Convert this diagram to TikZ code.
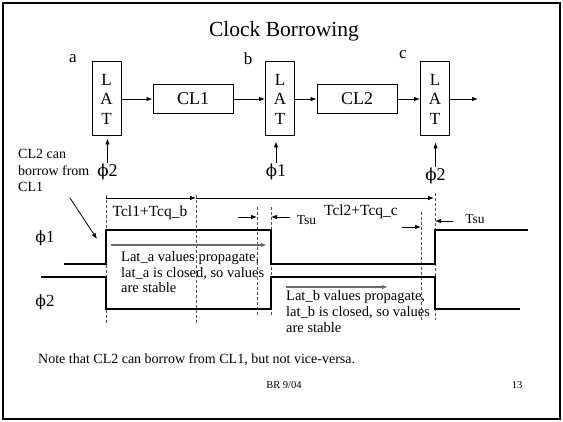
\documentclass[tikz,border=0pt]{standalone}
\usepackage{fontspec}
\setmainfont{Liberation Serif}
\newfontfamily\phifont[Scale=0.92]{DejaVu Serif}
\usetikzlibrary{arrows.meta}
\newcommand{\ph}{{\phifont ϕ}}
\begin{document}
\begin{tikzpicture}[x=1pt,y=-1pt,
	>={Latex[length=6pt,width=4.5pt]},
	lat/.style={draw, line width=1pt, minimum width=29pt, minimum height=74pt, align=center, inner sep=0pt, font=\fontsize{17}{19.5}\selectfont},
	clbox/.style={draw, line width=1pt, minimum width=80pt, minimum height=29pt, inner sep=0pt, font=\fontsize{18}{20}\selectfont},
	pfeil/.style={->, line width=0.8pt},
	welle/.style={line width=1.6pt},
	hilfslinie/.style={densely dashed, line width=0.6pt, strichgrau},
	graupfeil/.style={->, line width=1.2pt, pfeilgrau},
	txt/.style={inner sep=0pt, font=\fontsize{14.5}{15.8}\selectfont, align=left}]
	% Pegel der Taktsignale
	\def\hA{230} \def\lA{264}   % phi1
	\def\hB{277} \def\lB{309}   % phi2
	
	% Farben
	\definecolor{pfeilgrau}{RGB}{105,105,105}
	\definecolor{strichgrau}{RGB}{80,80,80}
	
	\useasboundingbox (0,0) rectangle (563,422);
	% Rahmen
	\draw[line width=2pt] (3,3) rectangle (560,419);
	
	% Titel
	\node (titel) at (284,31) {\fontsize{21.5}{24}\selectfont Clock Borrowing};
	
	% Latches und Logik
	\node[lat] (lata) at (106.5,99) {L\\A\\T};
	\node[lat] (latb) at (280,99) {L\\A\\T};
	\node[lat] (latc) at (435,99) {L\\A\\T};
	\node[clbox] (cl1) at (193,99) {CL1};
	\node[clbox] (cl2) at (357,99) {CL2};
	\coordinate (aus) at (478,99);
	
	\node[font=\fontsize{17}{19}\selectfont] (na) at (73,59) {a};
	\node[font=\fontsize{17}{19}\selectfont] (nb) at (248,59) {b};
	\node[font=\fontsize{17}{19}\selectfont] (nc) at (403,55) {c};
	
	\draw[pfeil] (lata.east) -- (cl1.west);
	\draw[pfeil] (cl1.east) -- (latb.west);
	\draw[pfeil] (latb.east) -- (cl2.west);
	\draw[pfeil] (cl2.east) -- (latc.west);
	\draw[pfeil] (latc.east) -- (aus);
	
	% Takte an den Latches
	\node[anchor=north, inner sep=0.5pt, font=\fontsize{18}{20}\selectfont] (phia) at (107.5,163) {\ph2};
	\node[anchor=north, inner sep=0.5pt, font=\fontsize{18}{20}\selectfont] (phib) at (276,163) {\ph1};
	\node[anchor=north, inner sep=0.5pt, font=\fontsize{18}{20}\selectfont] (phic) at (435.5,167) {\ph2};
	\draw[pfeil, shorten >=2pt] (phia.north) -- (phia.north |- lata.south);
	\draw[pfeil, shorten >=5pt] (phib.north) -- (phib.north |- latb.south);
	\draw[pfeil, shorten >=6pt] (phic.north) -- (phic.north |- latc.south);
	
	% Hinweis links
	\node[txt, anchor=north west, font=\fontsize{14}{16.2}\selectfont] (borgen) at (18,149.5) {CL2 can\\borrow from\\CL1};
	\coordinate (bs) at (70,198);
	\coordinate (bz) at (97,239);
	\draw[pfeil] (bs) -- (bz);
	
	% Hilfslinien
	\draw[hilfslinie] (106,195) -- (106,324);
	\draw[hilfslinie] (196,195) -- (196,325);
	\draw[hilfslinie] (257,207) -- (257,315);
	\draw[hilfslinie] (271,207) -- (271,315);
	\draw[hilfslinie] (421,212) -- (421,321);
	\draw[hilfslinie] (435,193) -- (435,320);
	
	% Taktsignale
	\node[font=\fontsize{17}{19}\selectfont] (phi1) at (45,238) {\ph1};
	\node[font=\fontsize{17}{19}\selectfont] (phi2) at (45,302) {\ph2};
	\draw[welle] (64,\lA) -- (106,\lA) -- (106,\hA) -- (271,\hA) -- (271,\lA) -- (435,\lA) -- (435,\hA) -- (528,\hA);
	\draw[welle] (41,\hB) -- (106,\hB) -- (106,\lB) -- (271,\lB) -- (271,\hB) -- (435,\hB) -- (435,\lB) -- (520,\lB);
	
	% Zeitspannen
	\coordinate (s0) at (106,198);
	\coordinate (s1) at (196,198);
	\coordinate (s2) at (434,198);
	\draw[pfeil] (s0) -- (s1);
	\draw[pfeil] (s1) -- (s2);
	\node[font=\fontsize{15.5}{17}\selectfont, inner sep=0pt] (tb) at (150,213) {Tcl1+Tcq\_b};
	\node[font=\fontsize{15.5}{17}\selectfont, inner sep=0pt] (tc) at (361,212) {Tcl2+Tcq\_c};
	
	% Setup-Zeiten
	\coordinate (ub1) at (238,217);
	\coordinate (ub2) at (257,217);
	\coordinate (ub3) at (290,217);
	\coordinate (ub4) at (271,217);
	\draw[pfeil] (ub1) -- (ub2);
	\draw[pfeil] (ub3) -- (ub4);
	\node[font=\fontsize{13.5}{15}\selectfont, inner sep=0pt] (sub) at (306.5,220) {Tsu};
	\coordinate (uc1) at (402,227);
	\coordinate (uc2) at (421,227);
	\coordinate (uc3) at (453,221);
	\coordinate (uc4) at (435,221);
	\draw[pfeil] (uc1) -- (uc2);
	\draw[pfeil] (uc3) -- (uc4);
	\node[font=\fontsize{13.5}{15}\selectfont, inner sep=0pt] (suc) at (475,219) {Tsu};
	
	% Ausbreitung in den Phasen
	\coordinate (ga1) at (111,245);
	\coordinate (ga2) at (267,245);
	\draw[graupfeil] (ga1) -- (ga2);
	\node[txt, anchor=north west] (lata txt) at (121,251) {Lat\_a values propagate,\\lat\_a is closed, so values\\are stable};
	\coordinate (gb1) at (286,287);
	\coordinate (gb2) at (388,287);
	\draw[graupfeil] (gb1) -- (gb2);
	\node[txt, anchor=north west] (latb txt) at (286,290.5) {Lat\_b values propagate,\\lat\_b is closed, so values\\are stable};
	
	% Fußzeile
	\node[anchor=west, inner sep=0pt, font=\fontsize{14}{16}\selectfont] (notiz) at (38,360) {Note that CL2 can borrow from CL1, but not vice-versa.};
	\node[font=\fontsize{10.5}{12}\selectfont] (br) at (284,385) {BR 9/04};
	\node[font=\fontsize{10.5}{12}\selectfont] (seite) at (517,385) {13};
\end{tikzpicture}
\end{document}
